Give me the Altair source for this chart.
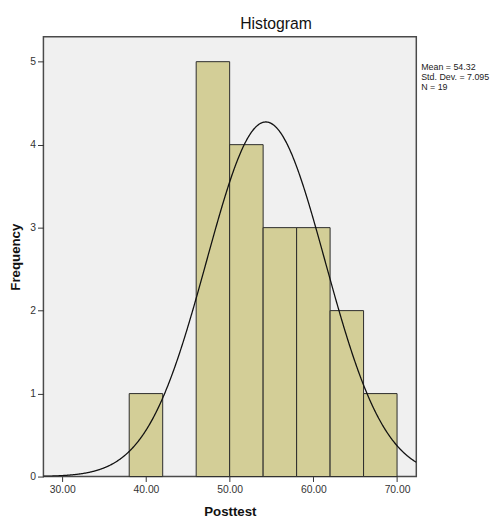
import altair as alt
import pandas as pd

# ---- data ----
bin_starts = [38, 42, 46, 50, 54, 58, 62, 66]
bin_width = 4
counts = [1, 0, 5, 4, 3, 3, 2, 1]
mean = 54.32
std_dev = 7.095
n = 19
x_ticks = [30, 40, 50, 60, 70]
y_ticks = [0, 1, 2, 3, 4, 5]
x_domain = [27.75, 72.3]
y_domain = [0, 5.3]
stats_lines = [f"Mean = {mean:.2f}", f"Std. Dev. = {std_dev}", f"N = {n}"]

bars_df = pd.DataFrame({
    "start": bin_starts,
    "end": [s + bin_width for s in bin_starts],
    "count": counts,
})
bars_df = bars_df[bars_df["count"] > 0]

FONT = "Liberation Sans"
x_scale = alt.Scale(domain=x_domain, nice=False, zero=False)
y_scale = alt.Scale(domain=y_domain, nice=False)

x_axis = alt.Axis(values=x_ticks, format=".2f", title="Posttest", grid=False,
                  labelFontSize=10.5, titleFontSize=13.5, titleFontWeight="bold",
                  tickSize=5, labelPadding=3, titlePadding=10, domain=False,
                  labelColor="#333", titleColor="#111", tickColor="#333")
y_axis = alt.Axis(values=y_ticks, format="d", title="Frequency", grid=False,
                  labelFontSize=10.5, titleFontSize=13.5, titleFontWeight="bold",
                  tickSize=6, labelPadding=2, titlePadding=7, domain=False,
                  labelColor="#333", titleColor="#111", tickColor="#333")

bars = alt.Chart(bars_df).mark_rect(
    fill="#D3CE97", stroke="#2a2a2a", strokeWidth=1
).encode(
    x=alt.X("start:Q", scale=x_scale, axis=x_axis),
    x2="end:Q",
    y=alt.Y("count:Q", scale=y_scale, axis=y_axis),
    y2=alt.datum(0),
)

curve = alt.Chart(alt.sequence(x_domain[0], x_domain[1] + 0.05, 0.05, as_="x")).transform_calculate(
    freq=f"{n * bin_width}/({std_dev}*sqrt(2*PI))*exp(-0.5*pow((datum.x-{mean})/{std_dev},2))"
).mark_line(color="#111", strokeWidth=1.3, clip=True).encode(
    x=alt.X("x:Q", scale=x_scale),
    y=alt.Y("freq:Q", scale=y_scale),
)

stats = alt.Chart(pd.DataFrame({"k": [0]})).mark_text(
    text=stats_lines, align="left", baseline="alphabetic", fontSize=9,
    lineHeight=10, font=FONT, color="#222"
).encode(x=alt.value(384), y=alt.value(34))

chart = alt.layer(bars, curve, stats).properties(
    width=379, height=447,
    autosize=alt.AutoSizeParams(type="none"),
    padding={"left": 36, "top": 25, "right": 81, "bottom": 47},
    title=alt.Title("Histogram", fontSize=16, fontWeight="normal", font=FONT,
                    anchor="middle", dx=47, offset=5, color="#111"),
).configure(font=FONT, background="white").configure_view(
    fill="#F0F0F0", stroke="#4a4a4a", strokeWidth=1.5
)

chart.save("out.html", embed_options={"renderer": "svg", "actions": False})
